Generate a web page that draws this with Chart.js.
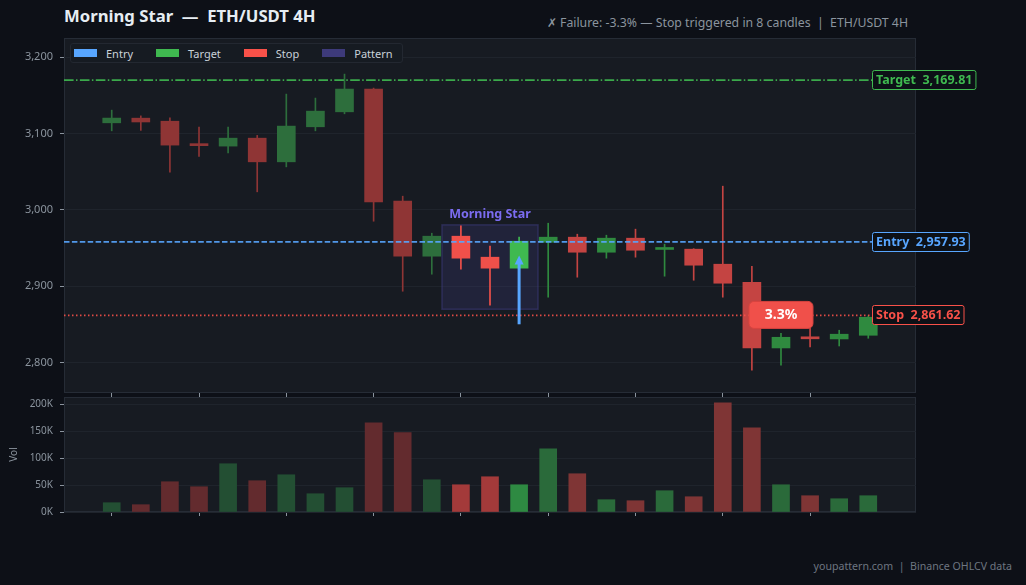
<!DOCTYPE html>
<html>
<head>
<meta charset="utf-8">
<script src="https://cdn.jsdelivr.net/npm/chart.js@4.4.1/dist/chart.umd.min.js"></script>
<style>
html, body { margin: 0; padding: 0; background: #0d1017; }
body { width: 1026px; height: 585px; position: relative; overflow: hidden; font-family: "Noto Sans", sans-serif; }
canvas { position: absolute; left: 0; }
#price { top: 0; }
#vol { top: 390px; }
#title { position: absolute; left: 64px; top: 4px; font-size: 16.7px; font-weight: bold; color: #e6edf3; white-space: pre; }
#sub { position: absolute; right: 118px; top: 14px; font-size: 12.3px; color: #8b949e; white-space: pre; }
#foot { position: absolute; right: 14px; top: 559px; font-size: 10.6px; color: #6e7681; white-space: pre; }
#legend { position: absolute; left: 70px; top: 43px; height: 20px; width: 333px; box-sizing: border-box;
  background: #161b22; border: 1px solid #232831; border-radius: 3px; display: flex; align-items: center;
  padding-left: 3px; font-size: 11px; color: #c9d1d9; z-index: 2; }
#legend .sw { display: inline-block; width: 23px; height: 8px; margin-right: 9px; }
#legend .it { display: flex; align-items: center; margin-right: 23px; }
</style>
</head>
<body>
<div id="title">Morning Star  —  ETH/USDT 4H</div>
<div id="sub">✗ Failure: -3.3% — Stop triggered in 8 candles  |  ETH/USDT 4H</div>
<div id="legend">
  <span class="it"><span class="sw" style="background:#58a6ff"></span>Entry</span>
  <span class="it"><span class="sw" style="background:#3fb950"></span>Target</span>
  <span class="it"><span class="sw" style="background:#f85149"></span>Stop</span>
  <span class="it"><span class="sw" style="background:#3d3a7a"></span>Pattern</span>
</div>
<canvas id="price" width="1026" height="400"></canvas>
<canvas id="vol" width="1026" height="130"></canvas>
<div id="foot">youpattern.com  |  Binance OHLCV data</div>
<script>
// candle data (ETH/USDT 4H)
const opens  = [3113.9, 3120, 3116, 3085, 3083.4, 3093.8, 3062.8, 3108.7, 3128.3, 3158.1, 3011.3, 2939.2, 2965.4, 2937.9, 2923.5, 2957.5, 2964.1, 2944.4, 2962.8, 2948, 2948.4, 2928.7, 2905.1, 2819, 2833.5, 2830.8, 2835.6];
const highs  = [3130.5, 3123, 3120.4, 3108.3, 3108.3, 3097.4, 3151.5, 3146.3, 3177.7, 3159.4, 3017.8, 2969.3, 2978.9, 2952.3, 2964.1, 2982.4, 2968, 2966.7, 2974.6, 2954.9, 2949, 3030.9, 2926, 2838.3, 2844.8, 2842.2, 2861];
const lows   = [3103.4, 3104, 3049.3, 3070, 3074.6, 3023.5, 3056.2, 3103.4, 3125.7, 2985, 2893.3, 2915.6, 2922.2, 2875, 2923, 2885.5, 2911.7, 2936.6, 2937.9, 2913, 2907.7, 2885.5, 2789.8, 2796.3, 2820.3, 2821.6, 2831.7];
const closes = [3120.1, 3115, 3084.7, 3084, 3093.8, 3062.8, 3109.6, 3129.2, 3158.1, 3010.4, 2939.2, 2965.4, 2936.6, 2923.5, 2958.8, 2964.1, 2944.4, 2962.8, 2947, 2949, 2927.4, 2903.8, 2819, 2833, 2831, 2837, 2859.2];
const volumes = [17300, 13600, 56300, 47000, 89800, 58200, 69300, 34000, 45200, 166000, 147600, 60000, 50700, 65600, 50700, 117700, 71200, 22900, 21000, 39600, 28400, 203000, 156700, 50700, 30300, 24700, 30300];

const xTicks = [0, 3, 6, 9, 12, 15, 18, 21, 24];
const priceTicks = [2800, 2900, 3000, 3100, 3200];
const volTicks = [0, 50000, 100000, 150000, 200000];

const entryPrice = 2957.93;
const targetPrice = 3169.81;
const stopPrice = 2861.62;
const patternIdx = [12, 13, 14];
const patternName = 'Morning Star';
const failLabel = '3.3%';
const failAt = 23;
const arrowFrom = 2850, arrowTo = 2940;

// colours per phase: before pattern, pattern, after pattern
const bodyUp = ['#2d6e3c', '#3fb950', '#2f8a3f'];
const bodyDn = ['#8f3535', '#f0504a', '#c44442'];
const volUp = ['#234f33', '#2e8a42', '#2a6a3a'];
const volDn = ['#632b2e', '#a33a3a', '#7f3535'];

Chart.defaults.font.family = "'Noto Sans', sans-serif";

const idx = opens.map((_, i) => i);
const pStart = patternIdx[0], pEnd = patternIdx[patternIdx.length - 1];
function phase(i) { return i < pStart ? 0 : (i <= pEnd ? 1 : 2); }
function up(i) { return closes[i] >= opens[i]; }

function noPad(s) { s.paddingTop = 0; s.paddingBottom = 0; s.paddingLeft = 0; s.paddingRight = 0; }

const xScale = (h) => ({
  type: 'linear', min: -1.64, max: 27.64, offset: false,
  afterBuildTicks: s => { s.ticks = xTicks.map(v => ({ value: v })); },
  afterFit: s => { s.height = h; noPad(s); },
  ticks: { display: false },
  grid: { drawOnChartArea: false, tickLength: 4, tickColor: '#8b949e', offset: false },
  border: { display: false }
});

const panelBg = {
  id: 'panelBg',
  beforeDraw(chart) {
    const { ctx, chartArea: a } = chart;
    ctx.save();
    ctx.fillStyle = '#171b22';
    ctx.fillRect(a.left, a.top, a.right - a.left, a.bottom - a.top);
    ctx.strokeStyle = '#262c36';
    ctx.lineWidth = 1;
    ctx.strokeRect(a.left + 0.5, a.top + 0.5, a.right - a.left - 1, a.bottom - a.top - 1);
    ctx.restore();
  }
};

const patternBox = {
  id: 'patternBox',
  beforeDatasetsDraw(chart) {
    const { ctx, scales: { x, y } } = chart;
    const hi = Math.max(...patternIdx.map(i => highs[i]));
    const lo = Math.min(...patternIdx.map(i => lows[i]));
    const x0 = x.getPixelForValue(pStart - 0.65), x1 = x.getPixelForValue(pEnd + 0.65);
    const y0 = y.getPixelForValue(hi) - 1, y1 = y.getPixelForValue(lo) + 4;
    ctx.save();
    ctx.fillStyle = 'rgba(61,58,122,0.28)';
    ctx.fillRect(x0, y0, x1 - x0, y1 - y0);
    ctx.strokeStyle = 'rgba(61,58,122,0.55)';
    ctx.lineWidth = 1.5;
    ctx.strokeRect(x0, y0, x1 - x0, y1 - y0);
    ctx.fillStyle = '#7b6cf0';
    ctx.font = 'bold 12.5px "Noto Sans"';
    ctx.textAlign = 'center';
    ctx.textBaseline = 'middle';
    ctx.fillText(patternName, (x0 + x1) / 2, y0 - 10);
    ctx.restore();
  }
};

function fmt(v) { return v.toLocaleString('en-US', { minimumFractionDigits: 2, maximumFractionDigits: 2 }); }

const levels = {
  id: 'levels',
  afterDatasetsDraw(chart) {
    const { ctx, chartArea: a, scales: { x, y } } = chart;
    const tagX = 872;
    const lines = [
      { p: targetPrice, name: 'Target', color: '#3fb950', dash: [9.6, 2.4, 1.5, 2.4] },
      { p: entryPrice, name: 'Entry', color: '#58a6ff', dash: [5.5, 2.4] },
      { p: stopPrice, name: 'Stop', color: '#f85149', dash: [1.5, 2.5] }
    ];
    ctx.save();
    lines.forEach(l => {
      const py = y.getPixelForValue(l.p);
      ctx.strokeStyle = l.color;
      ctx.globalAlpha = 0.9;
      ctx.lineWidth = 1.6;
      ctx.setLineDash(l.dash);
      ctx.beginPath();
      ctx.moveTo(a.left, py);
      ctx.lineTo(tagX, py);
      ctx.stroke();
    });
    ctx.setLineDash([]);
    ctx.globalAlpha = 1;

    // arrow on the confirmation candle
    const ax = x.getPixelForValue(pEnd);
    const ay0 = y.getPixelForValue(arrowFrom), ay1 = y.getPixelForValue(arrowTo);
    ctx.strokeStyle = '#58a6ff';
    ctx.fillStyle = '#58a6ff';
    ctx.lineWidth = 3;
    ctx.beginPath();
    ctx.moveTo(ax, ay0);
    ctx.lineTo(ax, ay1 + 6);
    ctx.stroke();
    ctx.beginPath();
    ctx.moveTo(ax, ay1);
    ctx.lineTo(ax - 4.5, ay1 + 9);
    ctx.lineTo(ax + 4.5, ay1 + 9);
    ctx.closePath();
    ctx.fill();

    // failure badge
    const bx = x.getPixelForValue(failAt), by = y.getPixelForValue(stopPrice);
    ctx.beginPath();
    ctx.roundRect(bx - 32, by - 14, 64, 27, 5);
    ctx.fillStyle = '#f0504a';
    ctx.fill();
    ctx.strokeStyle = '#d8443f';
    ctx.lineWidth = 1;
    ctx.stroke();
    ctx.fillStyle = '#ffffff';
    ctx.font = 'bold 14px "Noto Sans"';
    ctx.textAlign = 'center';
    ctx.textBaseline = 'middle';
    ctx.fillText(failLabel, bx, by);

    // right-hand tags
    ctx.font = 'bold 12.5px "Noto Sans"';
    ctx.textAlign = 'left';
    lines.forEach(l => {
      const py = Math.round(y.getPixelForValue(l.p));
      const txt = l.name + '  ' + fmt(l.p);
      const w = ctx.measureText(txt).width + 7, h = 19;
      ctx.beginPath();
      ctx.roundRect(tagX + 0.5, py - 9.5, w, h, 2);
      ctx.fillStyle = '#0d1117';
      ctx.fill();
      ctx.strokeStyle = l.color;
      ctx.lineWidth = 1;
      ctx.stroke();
      ctx.fillStyle = l.color;
      ctx.fillText(txt, tagX + 4, py + 0.5);
    });
    ctx.restore();
  }
};

new Chart(document.getElementById('price'), {
  type: 'bar',
  data: {
    datasets: [
      {
        data: idx.map(i => ({ x: i, y: [opens[i], closes[i]] })),
        backgroundColor: idx.map(i => (up(i) ? bodyUp : bodyDn)[phase(i)]),
        barThickness: 18, grouped: false, minBarLength: 2, borderWidth: 0
      },
      {
        data: idx.map(i => ({ x: i, y: [lows[i], highs[i]] })),
        backgroundColor: idx.map(i => (up(i) ? bodyUp : bodyDn)[phase(i)]),
        barThickness: 1, grouped: false, borderWidth: 0
      }
    ]
  },
  options: {
    responsive: false, animation: false,
    layout: { padding: { top: 38, right: 110, left: 0, bottom: 0 } },
    plugins: { legend: { display: false }, tooltip: { enabled: false } },
    scales: {
      x: xScale(7),
      y: {
        min: 2760, max: 3225,
        afterBuildTicks: s => { s.ticks = priceTicks.map(v => ({ value: v })); },
        afterFit: s => { s.width = 64; noPad(s); },
        ticks: { color: '#8b949e', font: { size: 11 }, padding: 7, callback: v => v.toLocaleString('en-US') },
        grid: { color: '#1f242c', tickColor: '#8b949e', tickLength: 4 },
        border: { display: false }
      }
    }
  },
  plugins: [panelBg, patternBox, levels]
});

new Chart(document.getElementById('vol'), {
  type: 'bar',
  data: {
    datasets: [{
      data: idx.map(i => ({ x: i, y: volumes[i] })),
      backgroundColor: idx.map(i => (up(i) ? volUp : volDn)[phase(i)]),
      barThickness: 17, borderWidth: 0
    }]
  },
  options: {
    responsive: false, animation: false,
    layout: { padding: { top: 7, right: 110, left: 0, bottom: 0 } },
    plugins: { legend: { display: false }, tooltip: { enabled: false } },
    scales: {
      x: xScale(8),
      y: {
        min: 0, max: 214000,
        afterBuildTicks: s => { s.ticks = volTicks.map(v => ({ value: v })); },
        afterFit: s => { s.width = 64; noPad(s); },
        title: { display: true, text: 'Vol', color: '#8b949e', font: { size: 10 }, padding: { top: 8, bottom: 0 } },
        ticks: { color: '#8b949e', font: { size: 10 }, padding: 7, callback: v => (v / 1000) + 'K' },
        grid: { color: '#1f242c', tickColor: '#8b949e', tickLength: 4 },
        border: { display: false }
      }
    }
  },
  plugins: [panelBg]
});
</script>
</body>
</html>
